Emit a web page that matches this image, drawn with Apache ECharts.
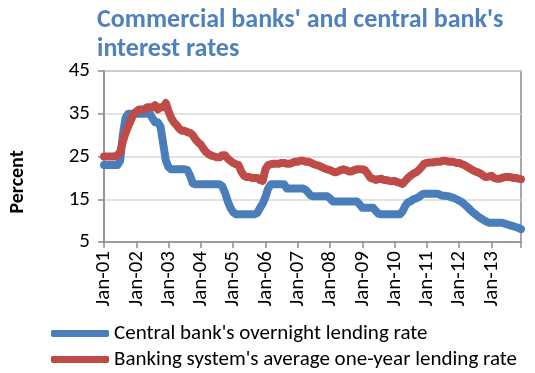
<!DOCTYPE html>
<html>
<head>
<meta charset="utf-8">
<script src="https://cdn.jsdelivr.net/npm/echarts@6/dist/echarts.min.js"></script>
<style>
html,body{margin:0;padding:0;background:#fff;}
#chart{width:535px;height:373px;}
</style>
</head>
<body>
<div id="chart"></div>
<script>
var monthNames = ['Jan','Feb','Mar','Apr','May','Jun','Jul','Aug','Sep','Oct','Nov','Dec'];
var years = ['01','02','03','04','05','06','07','08','09','10','11','12','13'];

var centralBankRate = [
  23,23,23,23,23,23,24,30,34,35,35,35,
  35,35,35,35,35,35,34,33,33,32,28,24,
  22.5,22,22,22,22,22,22,21.8,20.5,18.7,18.5,18.5,
  18.5,18.5,18.5,18.5,18.5,18.5,18.5,18.5,18,16.5,14.5,13,
  12,11.5,11.5,11.5,11.5,11.5,11.5,11.5,11.5,11.8,13,14,
  15.5,17.5,18.5,18.5,18.5,18.5,18.5,18.5,17.5,17.5,17.5,17.5,
  17.5,17.5,17.5,17.2,16.5,15.8,15.7,15.7,15.7,15.7,15.7,15.7,
  15.2,14.5,14.5,14.5,14.5,14.5,14.5,14.5,14.5,14.5,14.5,13.8,
  13,13,13,13,13,12.3,11.6,11.5,11.5,11.5,11.5,11.5,
  11.5,11.5,11.5,12.2,13.5,14.3,14.5,15,15.2,15.5,16,16.3,
  16.3,16.3,16.3,16.3,16.3,16,15.8,15.8,15.7,15.5,15.3,15,
  14.7,14.3,13.8,13.2,12.6,12,11.5,11,10.6,10.2,9.8,9.5,
  9.5,9.5,9.5,9.5,9.5,9.3,9.1,8.9,8.7,8.5,8.3,8.0
];

var lendingRate = [
  25,25,25,25,25,25.3,26,28.5,30.5,32,33.5,35,
  35.5,36,36,36,36.5,36.5,36.5,37,36,36.5,36.5,37.5,
  35.5,34,33,32.3,31.5,31,31,30.7,30.5,30,29,28.3,
  27.8,26.8,26,25.5,25.2,25,24.8,24.8,25.3,25.3,24.5,24,
  23.5,23.2,23,21.5,20.5,20.2,20.2,20,20,20,19.5,19.3,
  22,23,23.2,23.3,23.3,23.3,23.5,23.5,23.3,23.3,23.5,23.8,
  23.8,24,24,23.8,23.8,23.5,23.2,23,22.8,22.5,22.2,22,
  21.8,21.5,21.3,21.5,21.8,22,21.8,21.5,21.5,21.8,22,22,
  22,21.8,21,20,19.8,19.5,19.7,19.8,19.5,19.5,19.3,19.2,
  19.3,19,18.8,18.6,19.3,20,20.5,21,21.3,21.8,22.5,23.3,
  23.5,23.6,23.6,23.7,23.8,23.8,24,24,23.8,23.8,23.7,23.5,
  23.5,23.2,23,22.6,22.2,21.8,21.5,21.3,21,20.5,20.2,20.3,
  20.5,20,19.8,19.8,20,20.2,20.2,20.2,20,20,19.8,19.7
];

var yTicks = [5, 15, 25, 35, 45];
var seriesNames = ["Central bank's overnight lending rate", "Banking system's average one-year lending rate"];
var titleText = "Commercial banks' and central bank's\ninterest rates";

var categories = [];
years.forEach(function (y) { monthNames.forEach(function (m) { categories.push(m + '-' + y); }); });

var FONT = 'Carlito, Lato, sans-serif';
var chart = echarts.init(document.getElementById('chart'), null, {renderer: 'canvas'});
var last = categories.length - 1;

chart.setOption({
  animation: false,
  backgroundColor: '#ffffff',
  title: {
    text: titleText,
    left: 97, top: 6, padding: 0,
    textStyle: {fontFamily: FONT, fontSize: 26, fontWeight: 'bold', color: '#4f81bd', lineHeight: 29}
  },
  legend: {
    orient: 'vertical',
    left: 51, top: 323, padding: 0,
    itemWidth: 58, itemHeight: 7, itemGap: 5,
    icon: 'roundRect',
    textStyle: {fontFamily: FONT, fontSize: 21, color: '#000', lineHeight: 21},
    data: seriesNames
  },
  graphic: [{
    type: 'text',
    x: 18, y: 182,
    rotation: Math.PI / 2,
    style: {text: 'Percent', font: 'bold 20px ' + FONT, fill: '#000', textAlign: 'center', textVerticalAlign: 'middle'}
  }],
  grid: {left: 104, right: 14, top: 71, bottom: 131, show: true, borderColor: '#8c8c8c', borderWidth: 1.5, containLabel: false},
  xAxis: {
    type: 'category',
    data: categories,
    boundaryGap: false,
    axisLine: {lineStyle: {color: '#8c8c8c', width: 1.5}},
    axisTick: {
      length: 6, lineStyle: {color: '#8c8c8c', width: 1.5},
      interval: function (idx) { return idx % 12 === 0 || idx === last; }
    },
    axisLabel: {
      interval: function (idx) { return idx % 12 === 0; },
      rotate: 90, margin: 9,
      fontFamily: FONT, fontSize: 21, color: '#000'
    },
    splitLine: {show: false}
  },
  yAxis: {
    type: 'value',
    min: yTicks[0], max: yTicks[yTicks.length - 1], interval: yTicks[1] - yTicks[0],
    axisLine: {show: true, lineStyle: {color: '#8c8c8c', width: 1.5}},
    axisTick: {show: true, length: 6, lineStyle: {color: '#8c8c8c', width: 1.5}},
    axisLabel: {fontFamily: FONT, fontSize: 21, color: '#000', margin: 14},
    splitLine: {lineStyle: {color: '#d9d9d9', width: 1.5}}
  },
  series: [
    {
      name: seriesNames[0], type: 'line', data: centralBankRate,
      showSymbol: false, symbol: 'none',
      color: '#4a7ebb',
      lineStyle: {width: 8, color: '#4a7ebb', cap: 'round', join: 'round'},
      itemStyle: {color: '#4a7ebb'}
    },
    {
      name: seriesNames[1], type: 'line', data: lendingRate,
      showSymbol: false, symbol: 'none',
      color: '#be4b48',
      lineStyle: {width: 8, color: '#be4b48', cap: 'round', join: 'round'},
      itemStyle: {color: '#be4b48'}
    }
  ]
});
</script>
</body>
</html>
